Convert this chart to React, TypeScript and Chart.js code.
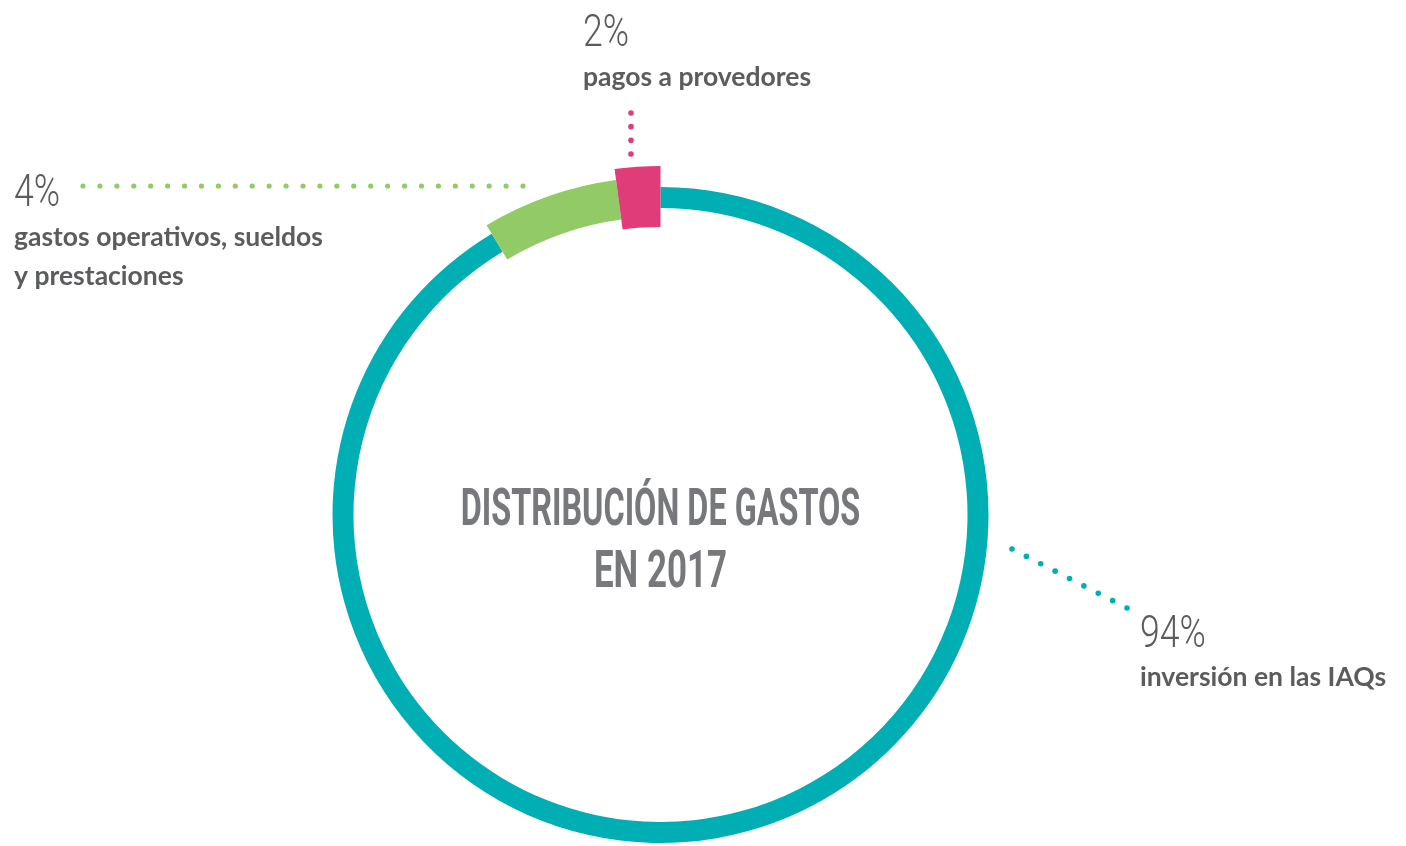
import React, { useEffect, useRef } from "react";
import { Chart, registerables } from "chart.js";

Chart.register(...registerables);

// ---- data ----
const categories = ["inversión en las IAQs", "gastos operativos, sueldos y prestaciones", "pagos a provedores"];
// angular share of each arc as drawn in the reference
const arcShares = [91.4, 6.5, 2.1];
// percentages printed next to each arc
const percentLabels = ["94%", "4%", "2%"];
const labelLines = [["inversión en las IAQs"], ["gastos operativos, sueldos", "y prestaciones"], ["pagos a provedores"]];
const titleLines = ["DISTRIBUCIÓN DE GASTOS", "EN 2017"];

// ---- style ----
const colors = ["#00AEB3", "#92CA66", "#E03C7A"];
const outerExtra = [0, 10, 21];
const innerExtra = [0, 9, 19];
const textGray = "#5B5C5E";
const titleGray = "#76787B";

const W = 1406;
const H = 846;

const thicknessPlugin = {
  id: "segThickness",
  afterDatasetsUpdate(chart: any) {
    const meta = chart.getDatasetMeta(0);
    meta.data.forEach((arc: any, i: number) => {
      arc.outerRadius = arc.outerRadius + outerExtra[i];
      arc.innerRadius = arc.innerRadius - innerExtra[i];
    });
  },
};

function scaledText(ctx: CanvasRenderingContext2D, text: string, x: number, y: number, font: string, sx: number, align: CanvasTextAlign, color: string) {
  ctx.save();
  ctx.font = font;
  ctx.fillStyle = color;
  ctx.textAlign = align;
  ctx.textBaseline = "alphabetic";
  ctx.translate(x, y);
  ctx.scale(sx, 1);
  ctx.fillText(text, 0, 0);
  ctx.restore();
}

function dots(ctx: CanvasRenderingContext2D, x1: number, y1: number, x2: number, y2: number, gap: number, color: string, r: number) {
  const len = Math.hypot(x2 - x1, y2 - y1);
  const n = Math.round(len / gap);
  ctx.save();
  ctx.fillStyle = color;
  for (let k = 0; k <= n; k++) {
    const t = k / n;
    ctx.beginPath();
    ctx.arc(x1 + (x2 - x1) * t, y1 + (y2 - y1) * t, r, 0, Math.PI * 2);
    ctx.fill();
  }
  ctx.restore();
}

const annotationPlugin = {
  id: "annotations",
  afterDraw(chart: any) {
    const ctx: CanvasRenderingContext2D = chart.ctx;
    const numFont = "300 44px Roboto";
    const lblFont = "bold 26.5px Lato";
    const numSx = 0.81;

    // title in the centre
    const meta = chart.getDatasetMeta(0);
    const cx = meta.data[0].x;
    const cy = meta.data[0].y;
    scaledText(ctx, titleLines[0], cx, cy + 10, "bold 51px Roboto", 0.635, "center", titleGray);
    scaledText(ctx, titleLines[1], cx, cy + 72, "bold 51px Roboto", 0.685, "center", titleGray);

    // pink – top
    scaledText(ctx, percentLabels[2], 583, 46, numFont, numSx, "left", textGray);
    ctx.save(); ctx.font = lblFont; ctx.fillStyle = textGray; ctx.fillText(labelLines[2][0], 583, 86); ctx.restore();
    dots(ctx, 631, 113, 631, 154, 13.7, colors[2], 2.8);

    // green – left
    scaledText(ctx, percentLabels[1], 14, 206, numFont, numSx, "left", textGray);
    ctx.save(); ctx.font = lblFont; ctx.fillStyle = textGray;
    ctx.fillText(labelLines[1][0], 14, 246);
    ctx.fillText(labelLines[1][1], 14, 285);
    ctx.restore();
    dots(ctx, 83, 186, 523, 186, 16.9, colors[1], 2.6);

    // teal – right
    scaledText(ctx, percentLabels[0], 1140, 647, numFont, numSx, "left", textGray);
    ctx.save(); ctx.font = lblFont; ctx.fillStyle = textGray; ctx.fillText(labelLines[0][0], 1140, 686); ctx.restore();
    dots(ctx, 1012, 549, 1127, 608, 16.1, colors[0], 2.8);
  },
};

export default function App() {
  const ref = useRef<HTMLCanvasElement>(null);
  useEffect(() => {
    if (!ref.current) return;
    const chart = new Chart(ref.current, {
      type: "doughnut",
      data: {
        labels: categories,
        datasets: [
          {
            data: arcShares,
            backgroundColor: colors,
            borderWidth: 0,
            clip: false,
          } as any,
        ],
      },
      options: {
        responsive: false,
        animation: false,
        cutout: "93.6%",
        layout: { padding: { left: 332, right: 417, top: 187, bottom: 3 } },
        plugins: { legend: { display: false }, tooltip: { enabled: false }, title: { display: false } },
      },
      plugins: [thicknessPlugin, annotationPlugin],
    });
    return () => chart.destroy();
  }, []);
  return (
    <div style={{ position: "absolute", left: 0, top: 0, width: W, height: H, background: "#fff" }}>
      <canvas ref={ref} width={W} height={H} style={{ display: "block" }} />
    </div>
  );
}
